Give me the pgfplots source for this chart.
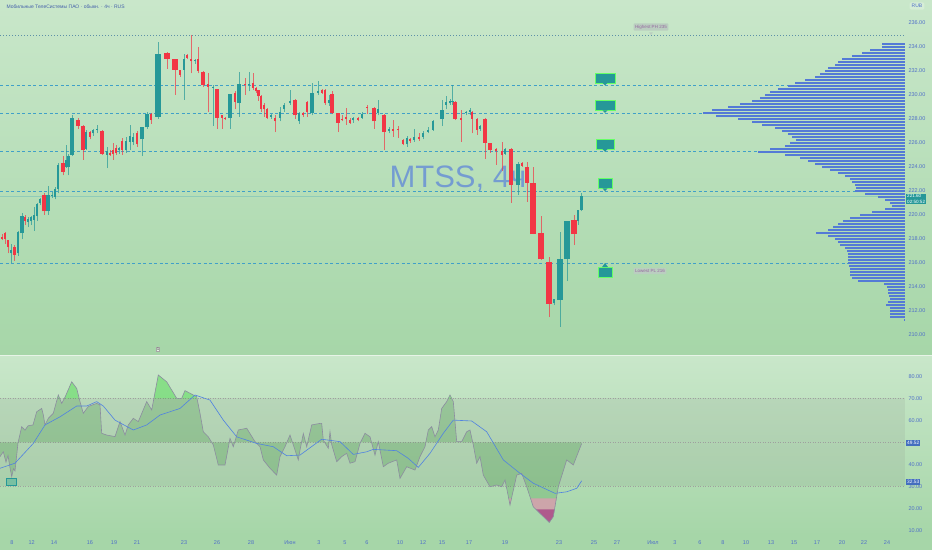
\documentclass[border=0pt]{standalone}
\usepackage{fontspec}
\setmainfont{Liberation Sans}
\usepackage{pgfplots}
\pgfplotsset{compat=1.18}
\usepackage{pgfplotstable}

\definecolor{bgTop}{RGB}{201,231,202}
\definecolor{bgBot}{RGB}{166,214,168}
\definecolor{upc}{RGB}{38,152,152}
\definecolor{dnc}{RGB}{242,54,69}
\definecolor{lvl}{RGB}{64,160,200}
\definecolor{axtxt}{RGB}{80,112,200}
\definecolor{prof}{RGB}{84,122,214}
\definecolor{rsic}{RGB}{140,140,160}
\definecolor{mac}{RGB}{80,130,225}
\definecolor{wm}{RGB}{100,140,215}
\definecolor{pinkf}{RGB}{205,165,170}
\definecolor{magf}{RGB}{175,90,140}
\definecolor{labbox}{RGB}{186,206,192}
\definecolor{labtxt}{RGB}{150,105,160}

% candles: x o h l c
\pgfplotstableread{
x o h l c
158 228.2 234.4 228.0 233.4
560 212.9 218.6 210.7 216.3
567 216.3 219.5 214.5 219.5
}\upA
\pgfplotstableread{
x o h l c
22 218.5 220.2 218.0 219.9
48 220.3 222.4 220.0 221.7
72 225.0 228.3 224.9 228.1
142 226.3 227.3 224.9 227.3
147 227.3 228.6 227.2 228.4
230 228.1 230.1 227.2 230.1
239 229.3 231.9 228.2 230.9
312 228.5 231.0 228.3 230.2
442 228.0 229.6 227.4 228.75
518 222.5 224.4 221.7 224.25
}\upB
\pgfplotstableread{
x o h l c
11 216.8 217.6 216.0 217.1
18 216.8 218.7 216.6 218.6
28 219.4 219.8 219.0 219.7
31 219.5 219.9 219.2 219.8
34 219.6 220.7 218.7 220.0
37 219.9 221.0 219.5 220.9
40 221.0 221.4 220.8 221.3
52 221.6 221.9 221.4 221.7
55 221.5 222.3 221.3 222.2
58 222.2 224.3 221.8 224.2
66 224.0 225.8 223.9 224.6
68.5 224.0 225.1 223.3 224.9
86 225.5 227.1 225.4 226.9
93 226.8 227.2 226.6 227.1
97 227.1 227.5 226.8 227.2
107 225.0 225.7 223.9 225.3
119 225.4 225.7 225.1 225.6
126 225.4 226.5 225.2 226.2
130 226.1 227.5 225.4 226.6
133 226.1 226.8 225.8 226.5
184 232.1 233.4 229.6 233.0
195 232.8 233.0 232.6 232.95
213 230.6 230.8 227.4 230.7
249 230.8 231.9 230.3 230.95
271 228.2 228.4 228.0 228.3
280 228.1 229.0 227.8 228.6
284 228.8 229.3 228.6 229.2
290 229.3 230.4 229.2 229.5
299 227.8 228.6 227.6 228.5
318 230.2 231.2 230.0 230.3
329 229.3 230.0 229.1 229.6
353 227.9 228.2 227.7 228.1
362 228.1 228.6 228.0 228.4
378 228.5 229.6 228.3 228.8
389 227.0 227.3 226.8 227.2
407 225.9 226.6 225.7 226.4
414 226.25 227.2 226.1 226.5
423 226.5 227.0 226.3 226.8
428 226.95 227.3 226.8 227.1
433 227.1 227.9 227.0 227.8
446 229.2 229.9 228.8 229.4
450 229.3 229.7 229.2 229.5
452.5 229.4 230.8 229.2 229.5
466 228.5 228.7 228.3 228.6
470 228.6 228.9 228.3 228.75
480 227.2 227.5 227.0 227.4
505 225.1 225.6 225.0 225.5
554 212.65 213.0 212.5 213.0
578 219.5 220.4 219.2 220.4
581.5 220.4 221.8 220.3 221.6
}\upC
\pgfplotstableread{
x o h l c
167 233.5 233.6 232.2 233.0
175 233.0 233.0 230.0 232.1
533 222.7 224.0 218.4 218.4
541 218.5 219.9 216.25 216.3
549 216.1 216.5 211.5 212.6
574 219.6 220.0 217.5 218.4
}\dnA
\pgfplotstableread{
x o h l c
44 221.7 221.8 220.0 220.3
63 224.3 224.9 223.3 223.6
78 227.9 228.1 227.2 227.4
83 227.4 227.5 224.6 225.4
102 227.0 227.1 225.0 225.1
203 231.9 232.0 230.7 230.8
217 230.5 230.5 227.2 228.1
295 229.6 229.7 228.0 228.3
332 230.1 230.3 228.4 228.5
338 228.5 228.5 226.9 227.7
374 228.9 229.0 227.2 227.8
384 228.3 228.4 225.4 226.9
455 229.4 229.5 227.9 228.0
485 228.0 228.1 224.7 226.0
490 226.0 226.0 225.2 225.4
511 225.5 225.6 221.0 222.5
527 224.0 224.4 221.1 222.7
}\dnB
\pgfplotstableread{
x o h l c
2 218.2 218.4 217.9 218.0
5 218.5 218.6 217.6 218.0
8 217.9 217.9 216.8 217.3
14.5 217.3 217.5 216.2 216.7
25 219.8 220.0 219.2 219.5
90 226.9 227.0 226.3 226.5
110 225.2 225.4 224.9 225.0
113 225.4 226.0 224.6 225.1
116 225.6 225.8 225.0 225.2
122 226.2 226.4 225.0 225.4
137 226.8 227.0 225.7 225.9
151 228.4 228.5 227.6 227.9
180 232.1 232.1 231.5 231.7
187 233.3 233.4 233.0 233.1
191 233.0 235.0 231.8 232.8
198 233.0 234.0 231.8 232.0
208 230.9 231.8 228.6 230.7
222 228.3 228.3 227.2 228.1
225 228.1 228.2 227.9 228.0
235 230.2 230.3 228.8 229.4
245 230.9 231.4 230.0 230.8
253 230.97 231.8 230.4 230.6
256 230.6 230.7 230.2 230.3
258.5 230.4 230.4 229.5 229.9
261 229.9 230.0 228.6 228.8
264 229.2 229.3 228.2 228.8
267 228.8 228.9 228.0 228.1
275 228.1 228.3 226.9 227.8
303 228.5 228.6 228.2 228.35
307 229.4 229.5 228.2 228.6
322 230.4 230.5 230.1 230.2
325 230.4 230.5 229.2 229.3
342 228.0 228.3 227.8 227.9
346 228.2 228.9 227.5 228.0
350 227.9 228.1 227.6 227.7
358 228.1 228.2 227.8 227.95
367 229.0 229.2 228.4 228.9
393 227.2 227.9 226.5 227.0
398 227.2 227.4 226.4 227.05
403 226.25 226.3 225.8 225.9
410 226.3 226.4 226.0 226.15
419 226.5 226.8 226.2 226.3
461 228.1 228.75 226.1 227.95
472 228.6 228.7 226.8 228.0
477 228.0 228.1 226.7 227.1
496 225.5 225.6 224.2 225.35
502 225.35 226.1 223.7 225.0
522 224.3 224.4 224.0 224.1
}\dnC

% volume profile: price, left edge (px)
\pgfplotstableread{
p l
234.25 882
234.00 882
233.75 870
233.50 862
233.25 852
233.00 842
232.75 838
232.50 835
232.25 828
232.00 825
231.75 820
231.50 815
231.25 805
231.00 795
230.75 788
230.50 778
230.25 770
230.00 765
229.75 760
229.50 752
229.25 740
229.00 728
228.75 712
228.50 703
228.25 716
228.00 738
227.75 752
227.50 762
227.25 775
227.00 782
226.75 788
226.50 792
226.25 796
226.00 790
225.75 785
225.50 770
225.25 758
225.00 785
224.75 800
224.50 808
224.25 815
224.00 822
223.75 830
223.50 838
223.25 845
223.00 850
222.75 852
222.50 855
222.25 856
222.00 855
221.75 865
221.50 878
221.25 885
221.00 890
220.75 892
220.50 885
220.25 872
220.00 860
219.75 850
219.50 843
219.25 838
219.00 833
218.75 828
218.50 816
218.25 828
218.00 835
217.75 838
217.50 840
217.25 845
217.00 847
216.75 848
216.50 848
216.25 848
216.00 848
215.75 849
215.50 850
215.25 850
215.00 850
214.75 852
214.50 858
214.25 884
214.00 887
213.75 888
213.50 888
213.25 889
213.00 890
212.75 888
212.50 886
212.25 890
212.00 890
211.75 890
211.50 890
211.25 904
}\profile

\pgfplotstableread{
x v
0 43.5
3.3 45.7
6 41
8 44
10 38.5
11.7 34.4
13.5 38
15 37
18 49.7
21.7 57.1
25 55.5
28 57.5
33 57.9
36.7 63.9
41.7 65.4
43.3 62.5
45 57.9
48.3 60.9
53.3 63.2
58.3 71.5
61.7 67.7
65 70.5
71.7 77.5
76.7 74.5
80 68.5
83.3 63.2
88.3 66.3
96.7 67.7
100 67
101.7 54.1
106.7 53.3
115 52.6
120 59.4
125 53.3
128.3 57.9
133.3 60.9
138.3 59.4
146.7 68.5
151.7 64.7
158.3 80.6
166.7 77.5
176.7 70
181.7 70
185 73.5
190 72.3
196.7 70.7
200 63.2
203.3 54.8
208.3 52.5
213.3 48.8
218.3 39.7
225 39.7
230 51.8
233.3 48.0
238.3 55.6
246.7 56.4
255 50.3
260 48.0
263.3 42.0
270 38.2
276.7 35.1
280 43.5
285 48.0
290 53.3
293.3 48.8
298.3 42.0
300 46.5
303.3 54.0
306.7 48.0
311.7 57.9
320 58.6
321.7 58.6
323.3 51.0
328.3 47.3
330 54.8
331.7 49
336.7 41.2
341.7 43.5
346.7 45.0
350 40.5
355 41.2
360 49.5
365 54.1
370 52.5
375 44.2
378.3 50.3
383.3 38.9
388.3 40.5
396.7 42.0
400 33.6
406.7 38.9
415 37.4
420 43.5
425 48.0
428.3 55.6
431.7 57.1
435 52.5
438.3 55.6
441.7 65.4
446.7 68.5
450 71.5
453.3 68.5
456.7 50.3
461.7 50.3
466.7 54.8
470 55.6
473.3 48.8
476.7 40.5
480 43.5
483.3 35.1
490 29.8
496.7 30.6
501.7 29.8
505 32.9
510 21.5
516.7 35.1
521.7 35.9
526.7 29.8
533.3 20.7
540 17.7
549.3 13.6
553.3 16.2
558.3 29.8
566.7 42.0
573.3 39.7
581.7 49.5
}\rsi

% same RSI values, closed along the 50 line, for the shaded area
\pgfplotstableread{
x v
0 50
0 43.5
3.3 45.7
6 41
8 44
10 38.5
11.7 34.4
13.5 38
15 37
18 49.7
21.7 57.1
25 55.5
28 57.5
33 57.9
36.7 63.9
41.7 65.4
43.3 62.5
45 57.9
48.3 60.9
53.3 63.2
58.3 71.5
61.7 67.7
65 70.5
71.7 77.5
76.7 74.5
80 68.5
83.3 63.2
88.3 66.3
96.7 67.7
100 67
101.7 54.1
106.7 53.3
115 52.6
120 59.4
125 53.3
128.3 57.9
133.3 60.9
138.3 59.4
146.7 68.5
151.7 64.7
158.3 80.6
166.7 77.5
176.7 70
181.7 70
185 73.5
190 72.3
196.7 70.7
200 63.2
203.3 54.8
208.3 52.5
213.3 48.8
218.3 39.7
225 39.7
230 51.8
233.3 48.0
238.3 55.6
246.7 56.4
255 50.3
260 48.0
263.3 42.0
270 38.2
276.7 35.1
280 43.5
285 48.0
290 53.3
293.3 48.8
298.3 42.0
300 46.5
303.3 54.0
306.7 48.0
311.7 57.9
320 58.6
321.7 58.6
323.3 51.0
328.3 47.3
330 54.8
331.7 49
336.7 41.2
341.7 43.5
346.7 45.0
350 40.5
355 41.2
360 49.5
365 54.1
370 52.5
375 44.2
378.3 50.3
383.3 38.9
388.3 40.5
396.7 42.0
400 33.6
406.7 38.9
415 37.4
420 43.5
425 48.0
428.3 55.6
431.7 57.1
435 52.5
438.3 55.6
441.7 65.4
446.7 68.5
450 71.5
453.3 68.5
456.7 50.3
461.7 50.3
466.7 54.8
470 55.6
473.3 48.8
476.7 40.5
480 43.5
483.3 35.1
490 29.8
496.7 30.6
501.7 29.8
505 32.9
510 21.5
516.7 35.1
521.7 35.9
526.7 29.8
533.3 20.7
540 17.7
549.3 13.6
553.3 16.2
558.3 29.8
566.7 42.0
573.3 39.7
581.7 49.5
581.7 50
}\rsiarea

\pgfplotstableread{
x v
0 38.2
15 40.5
33.3 49.5
45 57.9
60 61.6
76.7 66.5
86.7 66.5
96.7 68.5
103.3 66.5
115 60.1
133.3 55.6
146.7 57.9
160 62.4
180 65.4
195 71.5
210 69.2
223.3 60.1
236.7 52.5
256.7 49.5
273.3 48.0
286.7 43.9
300 44.2
321.7 51.4
340 50.3
353.3 44.5
366.7 45.7
373.3 46.8
396.7 46.2
408.3 42.7
418.3 38.6
430 45.0
443.3 54.1
453.3 60.1
471.7 59.7
486.7 54.8
503.3 42.0
520 35.9
533.3 31.4
555 26.8
566.7 27.5
576.7 29.1
581.7 32.5
}\rsima

\newcommand{\candles}[3]{%
 \addplot[draw=none, mark=none, forget plot, error bars/.cd, y dir=plus, y explicit, error mark=none,
   error bar style={line width=0.6pt, draw=#2, opacity=0.7}]
   table[x=x, y=l, y error plus expr={\thisrow{h}-\thisrow{l}}] {#1};
 \addplot[draw=none, mark=none, forget plot, error bars/.cd, y dir=plus, y explicit, error mark=none,
   error bar style={line width=#3, draw=#2}]
   table[x=x, y expr={min(\thisrow{o},\thisrow{c})}, y error plus expr={max(abs(\thisrow{c}-\thisrow{o}),0.07)}] {#1};
}

\begin{document}
\begin{tikzpicture}[x=1pt,y=1pt]
\path[use as bounding box] (0,0) rectangle (932,550);
\shade[top color=bgTop, bottom color=bgBot] (0,195) rectangle (932,550);
\shade[top color=bgTop, bottom color=bgBot] (0,15) rectangle (932,195);
\fill[bgBot] (0,0) rectangle (932,15);
\draw[white!55!bgTop, line width=0.8pt] (0,195) -- (932,195);

% ---------------- price panel ----------------
\begin{axis}[at={(0pt,195pt)}, anchor=south west, scale only axis,
  width=905pt, height=355pt, xmin=0, xmax=905, ymin=208.3333, ymax=237.9167,
  axis line style={draw=none}, xtick=\empty, ytick={210,212,...,236},
  yticklabel pos=right, major tick length=0pt, clip=false,
  /pgf/number format/fixed, /pgf/number format/fixed zerofill,
  /pgf/number format/precision=2, /pgf/number format/assume math mode=true,
  yticklabel style={font=\fontsize{5.5}{6}\selectfont, text=axtxt}]

\node[anchor=base west, font=\fontsize{31}{31}\selectfont, text=wm, opacity=0.8] at (axis cs:386,222.25) {MTSS, 4ч};

\draw[lvl!55!gray, dash pattern=on 1pt off 2pt, line width=0.6pt] (axis cs:0,235) -- (axis cs:905,235);
\draw[lvl, dash pattern=on 3pt off 2.5pt, line width=0.6pt] (axis cs:0,230.8) -- (axis cs:905,230.8);
\draw[lvl, dash pattern=on 3pt off 2.5pt, line width=0.6pt] (axis cs:0,228.5) -- (axis cs:905,228.5);
\draw[lvl, dash pattern=on 3pt off 2.5pt, line width=0.6pt] (axis cs:0,225.27) -- (axis cs:905,225.27);
\draw[lvl, dash pattern=on 3pt off 2.5pt, line width=0.6pt] (axis cs:0,221.97) -- (axis cs:905,221.97);
\draw[lvl, dash pattern=on 3pt off 2.5pt, line width=0.6pt] (axis cs:0,216.0) -- (axis cs:905,216.0);
\draw[upc!35!bgTop, line width=0.5pt] (axis cs:0,221.6) -- (axis cs:905,221.6);

\addplot[draw=none, mark=none, forget plot, error bars/.cd, x dir=plus, x explicit, error mark=none,
  error bar style={line width=2.3pt, draw=prof}]
  table[x=l, y=p, x error plus expr={905-\thisrow{l}}] {\profile};

\candles{\upA}{upc}{6pt}
\candles{\upB}{upc}{3.6pt}
\candles{\upC}{upc}{2.2pt}
\candles{\dnA}{dnc}{6pt}
\candles{\dnB}{dnc}{3.6pt}
\candles{\dnC}{dnc}{2.2pt}

% callouts
\fill[upc, draw=green!60!white, line width=0.3pt] (axis cs:605,230.8) ++(-10pt,2.5pt) rectangle ++(20pt,10pt);
\fill[upc] (axis cs:605,230.8) -- ++(-2.5pt,2.6pt) -- ++(5pt,0pt) -- cycle;
\fill[upc, draw=green!60!white, line width=0.3pt] (axis cs:605,228.5) ++(-10pt,2.5pt) rectangle ++(20pt,10pt);
\fill[upc] (axis cs:605,228.5) -- ++(-2.5pt,2.6pt) -- ++(5pt,0pt) -- cycle;
\fill[upc, draw=green!60!white, line width=0.3pt] (axis cs:605,225.27) ++(-9pt,2.5pt) rectangle ++(18pt,10pt);
\fill[upc] (axis cs:605,225.27) -- ++(-2.5pt,2.6pt) -- ++(5pt,0pt) -- cycle;
\fill[upc, draw=green!60!white, line width=0.3pt] (axis cs:605,221.97) ++(-7pt,3pt) rectangle ++(14pt,10pt);
\fill[upc] (axis cs:605,221.97) -- ++(-2.5pt,3.1pt) -- ++(5pt,0pt) -- cycle;
\fill[upc, draw=green!60!white, line width=0.3pt] (axis cs:605,216.0) ++(-7pt,-14pt) rectangle ++(14pt,10pt);
\fill[upc] (axis cs:605,216.0) -- ++(-3pt,-4.1pt) -- ++(6pt,0pt) -- cycle;

\node[fill=labbox, text=labtxt, font=\fontsize{4.5}{5}\selectfont, inner sep=1.6pt, rounded corners=1pt] at (axis cs:651,235.67) {Highest PH 235};
\fill[labbox] (axis cs:651,235) -- ++(-2pt,2.6pt) -- ++(4pt,0pt) -- cycle;
\node[fill=labbox, text=labtxt, font=\fontsize{4.5}{5}\selectfont, inner sep=1.6pt, rounded corners=1pt] at (axis cs:650,215.33) {Lowest PL 216};
\end{axis}

% ---------------- RSI panel ----------------
\begin{axis}[at={(0pt,15pt)}, anchor=south west, scale only axis,
  width=905pt, height=180pt, xmin=0, xmax=905, ymin=7.86, ymax=89.7,
  axis line style={draw=none}, ytick={10,20,30,40,60,70,80},
  yticklabel pos=right, major tick length=0pt, clip=false,
  /pgf/number format/fixed, /pgf/number format/fixed zerofill,
  /pgf/number format/precision=2, /pgf/number format/assume math mode=true,
  yticklabel style={font=\fontsize{5.5}{6}\selectfont, text=axtxt},
  xtick={12,31.7,54,90,114,137,184,217,251,290,319,345,367,400,423,442,469,505,559,594,617,653,675,700,723,746,771,794,817,842,864,887},
  xticklabels={8,12,14,16,19,21,23,26,28,Июн,3,5,6,10,12,15,17,19,23,25,27,Июл,3,6,8,10,13,15,17,20,22,24},
  xticklabel style={font=\fontsize{5.5}{6}\selectfont, text=axtxt, yshift=-2.5pt}]

\fill[gray, opacity=0.13] (axis cs:0,30) rectangle (axis cs:905,70);
\draw[gray!75, dash pattern=on 1pt off 1.5pt, line width=0.5pt] (axis cs:0,70) -- (axis cs:905,70);
\draw[gray!75, dash pattern=on 1pt off 1.5pt, line width=0.5pt] (axis cs:0,50) -- (axis cs:905,50);
\draw[gray!75, dash pattern=on 1pt off 1.5pt, line width=0.5pt] (axis cs:0,30) -- (axis cs:905,30);

\addplot[fill=green!45!black, fill opacity=0.17, draw=none, forget plot] table[x=x, y=v] {\rsiarea};

% overbought regions (above 70)
\addplot[fill=green!70!white, fill opacity=0.3, draw=none, forget plot] coordinates {(57.4,70) (58.3,71.5) (59.6,70)};
\addplot[fill=green!70!white, fill opacity=0.3, draw=none, forget plot] coordinates {(64.4,70) (65,70.5) (71.7,77.5) (76.7,74.5) (78.9,70)};
\addplot[fill=green!70!white, fill opacity=0.3, draw=none, forget plot] coordinates {(153.9,70) (158.3,80.6) (166.7,77.5) (176.7,70) (181.7,70) (185,73.5) (190,72.3) (196.7,70.7) (197.0,70)};
\addplot[fill=green!70!white, fill opacity=0.3, draw=none, forget plot] coordinates {(448.35,70) (450,71.5) (451.95,70)};
% oversold regions
\addplot[fill=pinkf, draw=none, forget plot] coordinates {(508.7,24.5) (510,21.5) (511.5,24.5)};
\addplot[fill=pinkf, draw=none, forget plot] coordinates {(530.5,24.5) (533.3,20.7) (540,17.7) (549.3,13.6) (553.3,16.2) (556.4,24.5)};
\addplot[fill=magf, draw=none, forget plot] coordinates {(536.0,19.5) (540,17.7) (549.3,13.6) (553.3,16.2) (554.5,19.5)};

\addplot[rsic, line width=0.6pt, forget plot] table[x=x, y=v] {\rsi};
\addplot[mac, line width=0.6pt, forget plot] table[x=x, y=v] {\rsima};
\end{axis}

% overlays outside plot areas
\node[anchor=west, font=\fontsize{5}{6}\selectfont, text=axtxt!85!black] at (3,543) {Мобильные ТелеСистемы ПАО · обыкн. · 4ч · RUS};
\node[fill=white, fill opacity=0.25, text opacity=1, text=axtxt, font=\fontsize{5}{6}\selectfont, rounded corners=1.5pt, inner sep=2pt] at (917,544) {RUB};
\node[fill=upc, text=white, font=\fontsize{4.6}{5.4}\selectfont, inner sep=1pt, align=left, anchor=west] at (906,351) {221.60\\02:50:52};
\node[fill=mac!85!black, text=white, font=\fontsize{4.8}{5.4}\selectfont, inner sep=1pt, anchor=west] at (906,107) {49.52};
\node[fill=mac!85!black, text=white, font=\fontsize{4.8}{5.4}\selectfont, inner sep=1pt, anchor=west] at (906,68) {32.53};
\draw[upc, fill=upc!35!bgBot, line width=0.6pt] (6,65) rectangle (16,72);
\node[draw=gray!70, fill=white!70!bgBot, font=\fontsize{3.5}{4}\selectfont, inner sep=0.6pt] at (158,201) {1};
\end{tikzpicture}
\end{document}
